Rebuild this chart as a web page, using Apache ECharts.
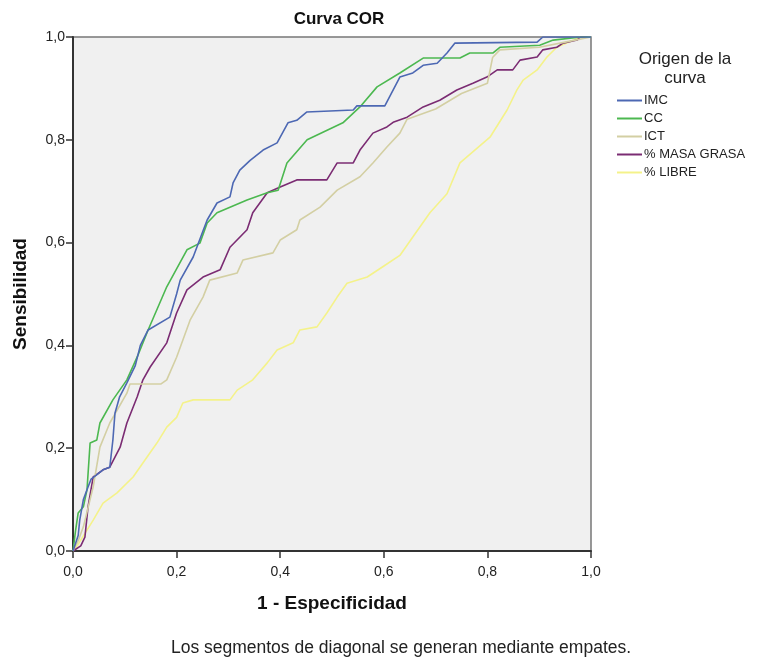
<!DOCTYPE html>
<html><head><meta charset="utf-8">
<script src="https://cdn.jsdelivr.net/npm/echarts@6/dist/echarts.min.js"></script>
<style>html,body{margin:0;padding:0;background:#fff}#c{width:758px;height:657px}</style>
</head><body><div id="c"></div>
<script>
const seriesNames = ['IMC','CC','ICT','% MASA GRASA','% LIBRE'];
const axisTicks = [0,0.2,0.4,0.6,0.8,1.0];
const imc = [[0,0],[0.01,0.03],[0.013,0.06],[0.02,0.1],[0.027,0.119],[0.035,0.14],[0.058,0.158],[0.071,0.163],[0.077,0.216],[0.081,0.268],[0.09,0.3],[0.104,0.327],[0.12,0.36],[0.13,0.4],[0.145,0.43],[0.187,0.455],[0.2,0.5],[0.207,0.527],[0.232,0.572],[0.25,0.62],[0.259,0.644],[0.278,0.677],[0.303,0.689],[0.309,0.716],[0.322,0.741],[0.342,0.76],[0.367,0.78],[0.394,0.794],[0.415,0.833],[0.432,0.838],[0.451,0.854],[0.541,0.858],[0.548,0.866],[0.602,0.866],[0.631,0.922],[0.656,0.93],[0.676,0.945],[0.703,0.949],[0.722,0.969],[0.737,0.988],[0.896,0.99],[0.907,1],[1,1]];
const cc = [[0,0],[0.005,0.04],[0.01,0.074],[0.02,0.086],[0.027,0.119],[0.033,0.21],[0.046,0.216],[0.052,0.249],[0.077,0.294],[0.104,0.333],[0.125,0.38],[0.145,0.43],[0.181,0.514],[0.22,0.586],[0.245,0.599],[0.259,0.638],[0.278,0.658],[0.336,0.683],[0.375,0.697],[0.396,0.702],[0.413,0.755],[0.452,0.8],[0.521,0.833],[0.554,0.864],[0.587,0.903],[0.631,0.93],[0.676,0.959],[0.747,0.959],[0.766,0.969],[0.811,0.969],[0.824,0.98],[0.901,0.984],[0.927,0.994],[0.98,1],[1,1]];
const ict = [[0,0],[0.01,0.02],[0.02,0.047],[0.039,0.125],[0.052,0.202],[0.071,0.249],[0.104,0.307],[0.11,0.325],[0.17,0.325],[0.181,0.333],[0.2,0.377],[0.226,0.449],[0.251,0.494],[0.264,0.527],[0.317,0.541],[0.328,0.566],[0.386,0.58],[0.4,0.605],[0.432,0.625],[0.438,0.644],[0.477,0.669],[0.51,0.702],[0.554,0.728],[0.579,0.755],[0.606,0.786],[0.631,0.813],[0.645,0.84],[0.7,0.86],[0.75,0.89],[0.8,0.91],[0.81,0.96],[0.824,0.975],[0.9,0.98],[0.95,0.99],[1,1]];
const masaGrasa = [[0,0],[0.015,0.01],[0.023,0.027],[0.029,0.086],[0.039,0.144],[0.058,0.158],[0.071,0.163],[0.091,0.202],[0.104,0.249],[0.124,0.3],[0.135,0.333],[0.149,0.358],[0.181,0.405],[0.2,0.463],[0.22,0.508],[0.251,0.533],[0.284,0.547],[0.303,0.591],[0.336,0.625],[0.347,0.658],[0.375,0.697],[0.4,0.708],[0.432,0.722],[0.49,0.722],[0.51,0.755],[0.541,0.755],[0.554,0.78],[0.579,0.813],[0.606,0.825],[0.618,0.834],[0.645,0.844],[0.676,0.864],[0.708,0.877],[0.741,0.897],[0.772,0.91],[0.799,0.922],[0.819,0.936],[0.849,0.936],[0.863,0.955],[0.896,0.961],[0.907,0.975],[0.934,0.98],[0.946,0.988],[0.973,0.994],[0.98,1],[1,1]];
const libre = [[0,0],[0.008,0.01],[0.039,0.06],[0.058,0.093],[0.085,0.113],[0.116,0.144],[0.143,0.183],[0.162,0.21],[0.181,0.241],[0.2,0.26],[0.212,0.288],[0.232,0.294],[0.303,0.294],[0.317,0.313],[0.347,0.333],[0.375,0.366],[0.394,0.391],[0.425,0.405],[0.438,0.43],[0.471,0.436],[0.49,0.463],[0.51,0.494],[0.529,0.521],[0.568,0.533],[0.598,0.553],[0.631,0.575],[0.656,0.611],[0.689,0.658],[0.722,0.695],[0.747,0.755],[0.805,0.805],[0.838,0.858],[0.857,0.897],[0.869,0.916],[0.896,0.936],[0.915,0.961],[0.934,0.98],[0.98,1],[1,1]];
const colors = ['#4d68b3','#4cb850','#d3cfa3','#7b2c73','#f4f28a'];
const allData = [imc, cc, ict, masaGrasa, libre];

const chart = echarts.init(document.getElementById('c'));
const fmt = v => v.toFixed(1).replace('.', ',');
const F = 'Liberation Sans, Arial, sans-serif';
chart.setOption({
  animation: false,
  textStyle: {fontFamily: F},
  title: [
    {text: 'Curva COR', left: 334, top: 6, textAlign: 'center', textStyle: {fontSize: 17, fontWeight: 'bold', color: '#111', fontFamily: F}},
    {text: 'Origen de la\ncurva', left: 680, top: 45, textAlign: 'center', textStyle: {fontSize: 17, fontWeight: 'normal', color: '#222', lineHeight: 19, fontFamily: F}},
    {text: 'Los segmentos de diagonal se generan mediante empates.', left: 396, top: 634, textAlign: 'center', textStyle: {fontSize: 17.5, fontWeight: 'normal', color: '#222', fontFamily: F}}
  ],
  legend: {
    orient: 'vertical', left: 612, top: 89, itemWidth: 25, itemHeight: 2, itemGap: 5, icon: 'rect',
    textStyle: {fontSize: 13, color: '#222', padding: [0,0,0,-3], fontFamily: F},
    data: seriesNames
  },
  grid: {left: 73, right: 167, top: 37, bottom: 106, containLabel: false, outerBoundsMode: 'none', show: true, backgroundColor: '#f0f0f0', borderColor: '#777', borderWidth: 1.5},
  xAxis: {
    type: 'value', min: 0, max: 1, interval: 0.2,
    name: '1 - Especificidad', nameLocation: 'middle', nameGap: 43,
    nameTextStyle: {fontSize: 19, fontWeight: 'bold', color: '#111'},
    axisLine: {show: true, lineStyle: {color: '#333', width: 2}},
    axisTick: {show: true, length: 7, lineStyle: {color: '#333', width: 1.5}},
    axisLabel: {formatter: fmt, fontSize: 14, color: '#222', margin: 14},
    splitLine: {show: false}
  },
  yAxis: {
    type: 'value', min: 0, max: 1, interval: 0.2,
    name: 'Sensibilidad', nameLocation: 'middle', nameGap: 43,
    nameTextStyle: {fontSize: 19, fontWeight: 'bold', color: '#111'},
    axisLine: {show: true, lineStyle: {color: '#333', width: 2}},
    axisTick: {show: true, length: 7, lineStyle: {color: '#333', width: 1.5}},
    axisLabel: {formatter: fmt, fontSize: 14, color: '#222', margin: 8},
    splitLine: {show: false}
  },
  series: seriesNames.map((n, i) => ({
    name: n, type: 'line', data: allData[i], showSymbol: false, symbol: 'none',
    lineStyle: {color: colors[i], width: 1.6}, itemStyle: {color: colors[i]}, z: 5 - i
  }))
});
</script></body></html>
